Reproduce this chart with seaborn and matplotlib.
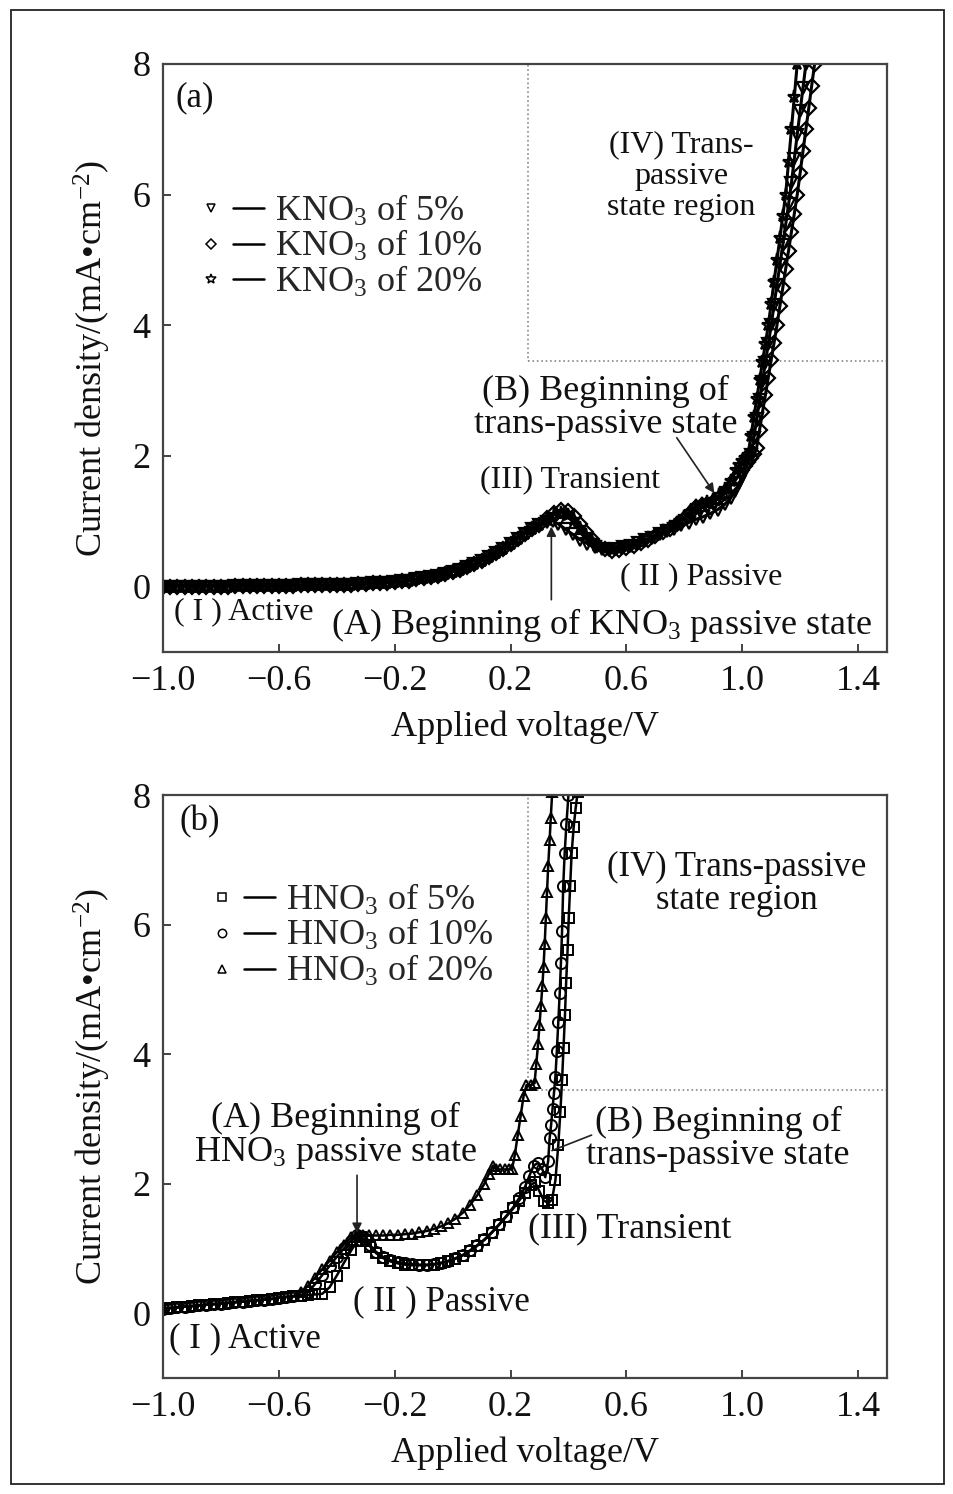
import matplotlib
matplotlib.use("Agg")
import matplotlib.pyplot as plt
from matplotlib.lines import Line2D
from matplotlib.legend_handler import HandlerTuple
from matplotlib.patches import Rectangle
import seaborn as sns

sns.set_style("ticks")
plt.rcParams['font.family'] = ['Liberation Serif', 'DejaVu Serif']
plt.rcParams['mathtext.fontset'] = 'custom'
plt.rcParams['mathtext.rm'] = 'Liberation Serif'
plt.rcParams['mathtext.it'] = 'Liberation Serif:italic'
plt.rcParams['mathtext.bf'] = 'Liberation Serif:bold'

# ---------------- data: panel (a) KNO3 ----------------
Va_low = [-1.000, -0.975, -0.950, -0.925, -0.900, -0.875, -0.850, -0.825, -0.800, -0.775,
          -0.750, -0.725, -0.700, -0.675, -0.650, -0.625, -0.600, -0.575, -0.550, -0.525,
          -0.500, -0.475, -0.450, -0.425, -0.400, -0.375, -0.350, -0.325, -0.300, -0.275,
          -0.250, -0.225, -0.200, -0.175, -0.150, -0.125, -0.100, -0.075, -0.050, -0.025,
          0.000, 0.025, 0.050, 0.075, 0.100, 0.125, 0.150, 0.175, 0.200, 0.225,
          0.250, 0.275, 0.300]
Ia_low = [0.00, 0.00, 0.00, 0.00, 0.00, 0.00, 0.00, 0.00, 0.00, 0.00,
          0.01, 0.01, 0.01, 0.01, 0.01, 0.01, 0.01, 0.01, 0.01, 0.02,
          0.02, 0.02, 0.02, 0.02, 0.03, 0.03, 0.03, 0.04, 0.04, 0.05,
          0.05, 0.06, 0.07, 0.08, 0.09, 0.11, 0.13, 0.15, 0.17, 0.20,
          0.23, 0.26, 0.30, 0.34, 0.39, 0.45, 0.51, 0.58, 0.65, 0.73,
          0.81, 0.88, 0.94]

K5_v = [0.325, 0.345, 0.365, 0.39, 0.415, 0.44, 0.465, 0.49, 0.515, 0.54,
        0.565, 0.59, 0.615, 0.64, 0.665, 0.69, 0.715, 0.74, 0.765, 0.79,
        0.815, 0.84, 0.865, 0.89, 0.915, 0.94, 0.96, 0.975, 0.99, 1.00,
        1.01, 1.02, 1.03, 1.04, 1.05, 1.06, 1.07, 1.08, 1.09, 1.10,
        1.11, 1.12, 1.13, 1.14, 1.15, 1.16, 1.17, 1.18, 1.19, 1.20,
        1.21, 1.22]
K5_i = [0.99, 1.01, 0.96, 0.88, 0.80, 0.72, 0.66, 0.61, 0.58, 0.56,
        0.57, 0.60, 0.63, 0.67, 0.71, 0.75, 0.80, 0.85, 0.89, 0.94,
        0.98, 1.03, 1.07, 1.12, 1.18, 1.26, 1.36, 1.46, 1.58, 1.68,
        1.79, 1.90, 2.02, 2.28, 2.56, 2.86, 3.14, 3.43, 3.71, 4.00,
        4.31, 4.62, 4.92, 5.23, 5.54, 5.85, 6.18, 6.55, 6.92, 7.28,
        7.64, 8.00]

K10_v = [0.325, 0.35, 0.375, 0.40, 0.42, 0.44, 0.46, 0.48, 0.50, 0.525,
         0.55, 0.575, 0.60, 0.625, 0.65, 0.675, 0.70, 0.725, 0.75, 0.775,
         0.80, 0.82, 0.84, 0.86, 0.88, 0.90, 0.92, 0.94, 0.96, 0.98,
         1.00, 1.01, 1.02, 1.03, 1.04, 1.05, 1.06, 1.07, 1.08, 1.09,
         1.10, 1.11, 1.12, 1.13, 1.14, 1.15, 1.16, 1.17, 1.18, 1.19,
         1.20, 1.21, 1.22, 1.23, 1.24, 1.25]
K10_i = [1.05, 1.13, 1.17, 1.16, 1.08, 0.96, 0.84, 0.73, 0.64, 0.58,
         0.55, 0.56, 0.59, 0.63, 0.67, 0.72, 0.77, 0.83, 0.89, 0.96,
         1.04, 1.13, 1.22, 1.25, 1.26, 1.30, 1.36, 1.44, 1.54, 1.66,
         1.78, 1.85, 1.91, 1.97, 2.03, 2.13, 2.40, 2.67, 2.93, 3.20,
         3.47, 3.73, 4.00, 4.29, 4.57, 4.86, 5.14, 5.43, 5.71, 6.00,
         6.33, 6.67, 7.00, 7.33, 7.67, 8.00]

K20_v = [0.325, 0.35, 0.375, 0.40, 0.42, 0.44, 0.46, 0.48, 0.50, 0.525,
         0.55, 0.575, 0.60, 0.625, 0.65, 0.675, 0.70, 0.725, 0.75, 0.775,
         0.80, 0.82, 0.84, 0.86, 0.88, 0.90, 0.92, 0.94, 0.96, 0.98,
         0.99, 1.00, 1.01, 1.02, 1.03, 1.04, 1.05, 1.06, 1.07, 1.08,
         1.09, 1.10, 1.11, 1.12, 1.13, 1.14, 1.15, 1.16, 1.17, 1.18,
         1.19]
K20_i = [1.02, 1.10, 1.13, 1.10, 1.02, 0.90, 0.79, 0.70, 0.63, 0.58,
         0.56, 0.57, 0.60, 0.64, 0.69, 0.74, 0.79, 0.85, 0.91, 0.98,
         1.06, 1.15, 1.23, 1.27, 1.29, 1.33, 1.40, 1.50, 1.62, 1.78,
         1.86, 1.93, 1.97, 2.02, 2.30, 2.59, 2.87, 3.16, 3.44, 3.72,
         4.00, 4.33, 4.67, 5.00, 5.33, 5.67, 6.00, 6.50, 7.00, 7.50,
         8.00]

# ---------------- data: panel (b) HNO3 ----------------
Vb_low = [-1.000, -0.975, -0.950, -0.925, -0.900, -0.875, -0.850, -0.825, -0.800, -0.775,
          -0.750, -0.725, -0.700, -0.675, -0.650, -0.625, -0.600, -0.575, -0.550]
Ib_low = [0.07, 0.08, 0.09, 0.10, 0.11, 0.12, 0.13, 0.14, 0.15, 0.16,
          0.17, 0.18, 0.19, 0.20, 0.21, 0.22, 0.24, 0.25, 0.26]

H5_v = [-0.525, -0.50, -0.475, -0.45, -0.425, -0.40, -0.375, -0.35, -0.33, -0.315,
        -0.30, -0.285, -0.265, -0.24, -0.215, -0.19, -0.165, -0.14, -0.115, -0.09,
        -0.065, -0.04, -0.015, 0.01, 0.035, 0.06, 0.085, 0.11, 0.135, 0.16,
        0.185, 0.21, 0.23, 0.25, 0.27, 0.285, 0.30, 0.315, 0.33, 0.343,
        0.355, 0.365, 0.372, 0.378, 0.383, 0.388, 0.392, 0.397, 0.401, 0.406,
        0.411, 0.418, 0.425, 0.432]
H5_i = [0.27, 0.28, 0.29, 0.30, 0.40, 0.58, 0.78, 0.97, 1.11, 1.17,
        1.12, 1.03, 0.93, 0.85, 0.80, 0.77, 0.75, 0.74, 0.74, 0.74,
        0.75, 0.77, 0.80, 0.84, 0.89, 0.96, 1.04, 1.13, 1.24, 1.36,
        1.49, 1.62, 1.74, 1.86, 1.98, 2.02, 1.88, 1.74, 1.70, 1.75,
        2.05, 2.60, 3.10, 3.60, 4.10, 4.60, 5.10, 5.60, 6.10, 6.60,
        7.10, 7.50, 7.80, 8.05]

H10_v = [-0.525, -0.50, -0.475, -0.45, -0.425, -0.40, -0.375, -0.35, -0.33, -0.315,
         -0.30, -0.285, -0.265, -0.24, -0.215, -0.19, -0.165, -0.14, -0.115, -0.09,
         -0.065, -0.04, -0.015, 0.01, 0.035, 0.06, 0.085, 0.11, 0.135, 0.16,
         0.185, 0.21, 0.23, 0.25, 0.265, 0.28, 0.295, 0.31, 0.32, 0.33,
         0.335, 0.340, 0.345, 0.350, 0.355, 0.360, 0.365, 0.370, 0.374, 0.378,
         0.382, 0.387, 0.393, 0.400]
H10_i = [0.28, 0.32, 0.45, 0.59, 0.73, 0.87, 1.00, 1.12, 1.20, 1.13,
         1.15, 1.05, 0.95, 0.87, 0.82, 0.79, 0.77, 0.76, 0.75, 0.75,
         0.76, 0.78, 0.81, 0.85, 0.90, 0.97, 1.05, 1.14, 1.25, 1.37,
         1.50, 1.64, 1.78, 1.95, 2.12, 2.28, 2.32, 2.22, 2.10, 2.35,
         2.70, 2.90, 3.15, 3.40, 3.65, 4.05, 4.50, 4.95, 5.40, 5.90,
         6.60, 7.10, 7.55, 8.00]

H20_v = [-0.525, -0.50, -0.475, -0.45, -0.425, -0.40, -0.375, -0.35, -0.33, -0.31,
         -0.29, -0.265, -0.24, -0.215, -0.19, -0.165, -0.14, -0.115, -0.09, -0.065,
         -0.04, -0.015, 0.01, 0.035, 0.06, 0.085, 0.11, 0.125, 0.14, 0.15,
         0.165, 0.18, 0.195, 0.205, 0.215, 0.225, 0.235, 0.245, 0.255, 0.27,
         0.283, 0.289, 0.295, 0.300, 0.305, 0.310, 0.314, 0.318, 0.322, 0.326,
         0.330, 0.335, 0.339, 0.344]
H20_i = [0.32, 0.42, 0.55, 0.68, 0.81, 0.94, 1.06, 1.17, 1.22, 1.21,
         1.20, 1.20, 1.20, 1.21, 1.21, 1.22, 1.23, 1.25, 1.27, 1.30,
         1.34, 1.39, 1.46, 1.55, 1.67, 1.82, 2.00, 2.15, 2.28, 2.22,
         2.22, 2.22, 2.22, 2.22, 2.45, 2.75, 3.05, 3.35, 3.52, 3.52,
         3.55, 3.85, 4.15, 4.45, 4.75, 5.05, 5.35, 5.70, 6.10, 6.50,
         6.90, 7.30, 7.65, 8.05]

labels_a = ["KNO$_3$ of 5%", "KNO$_3$ of 10%", "KNO$_3$ of 20%"]
labels_b = ["HNO$_3$ of 5%", "HNO$_3$ of 10%", "HNO$_3$ of 20%"]
xticks = [-1.0, -0.6, -0.2, 0.2, 0.6, 1.0, 1.4]
yticks = [0, 2, 4, 6, 8]
region_box = (0.26, 3.45, 1.5, 8.0)   # V0, I0, V1, I1 of the trans-passive box

# ---------------- figure ----------------
W, H = 954, 1494
fig = plt.figure(figsize=(W / 100, H / 100), dpi=100)
fig.patch.set_facecolor('white')
ax1 = fig.add_axes([163 / W, 1 - 652 / H, (887 - 163) / W, (652 - 64) / H])
ax2 = fig.add_axes([163 / W, 1 - 1378 / H, (887 - 163) / W, (1378 - 795) / H])


def draw(ax, v, i, marker, ms, lw=2.2, mew=1.6):
    sns.lineplot(x=v, y=i, ax=ax, sort=False, estimator=None, color='black',
                 linewidth=lw, marker=marker, markersize=ms, markerfacecolor='none',
                 markeredgecolor='black', markeredgewidth=mew, legend=False)


draw(ax1, Va_low + K5_v, Ia_low + K5_i, 'v', 8.5)
draw(ax1, Va_low + K10_v, Ia_low + K10_i, 'D', 7)
draw(ax1, Va_low + K20_v, Ia_low + K20_i, '*', 9.5)

draw(ax2, Vb_low + H5_v, Ib_low + H5_i, 's', 7, lw=1.8, mew=1.4)
draw(ax2, Vb_low + H10_v, Ib_low + H10_i, 'o', 8, lw=1.8, mew=1.4)
draw(ax2, Vb_low + H20_v, Ib_low + H20_i, '^', 7, lw=1.8, mew=1.4)


def style(ax):
    ax.set_xlim(-1.0, 1.5)
    ax.set_ylim(-1.0, 8.0)
    ax.set_xticks(xticks)
    ax.set_yticks(yticks)
    ax.tick_params(direction='in', length=6, width=1.2, labelsize=26, pad=9,
                   top=False, right=False, colors='#222222', labelcolor='#111111')
    for s in ax.spines.values():
        s.set_visible(True)
        s.set_linewidth(1.6)
        s.set_color('#444444')
    ax.set_xlabel('Applied voltage/V', fontsize=26, labelpad=9, color='#111111')
    ax.set_ylabel('Current density/(mA\u2022cm$^{-2}$)', fontsize=26, labelpad=14,
                  color='#111111')
    v0, i0, v1, i1 = region_box
    ax.add_patch(Rectangle((v0, i0), v1 - v0, i1 - i0, fill=False, ls=':',
                           ec='#888888', lw=1.2, zorder=1))


style(ax1)
style(ax2)


def legend(ax, markers, sizes, labels, anchor):
    handles = []
    for m, s in zip(markers, sizes):
        h1 = Line2D([], [], ls='none', marker=m, ms=s, mfc='none', mec='black', mew=1.1)
        h2 = Line2D([], [], color='black', lw=1.8)
        handles.append((h1, h2))
    ax.legend(handles, labels, handler_map={tuple: HandlerTuple(ndivide=None, pad=0.2)},
              loc='upper left', bbox_to_anchor=anchor, frameon=False, fontsize=26,
              handlelength=1.9, handletextpad=0.3, labelspacing=0.02,
              borderpad=0, borderaxespad=0)


legend(ax1, ['v', 'D', '*'], [6, 5, 7], labels_a, (0.045, 0.78))
legend(ax2, ['s', 'o', '^'], [6, 6, 6], labels_b, (0.06, 0.85))

# ---------------- annotations (a) ----------------
tk = dict(ha='center', va='center', color='#111111')
ax1.text(-0.89, 7.49, '(a)', fontsize=25, **tk)
ax1.text(0.79, 6.28, '(IV) Trans-\npassive\nstate region', fontsize=23, linespacing=1.1, **tk)
ax1.text(0.528, 2.74, '(B) Beginning of\ntrans-passive state', fontsize=26, linespacing=1.0, **tk)
ax1.text(0.407, 1.64, '(III) Transient', fontsize=23, **tk)
ax1.text(0.86, 0.15, '( II ) Passive', fontsize=23, **tk)
ax1.text(-0.72, -0.38, '( I ) Active', fontsize=23, **tk)
ax1.text(0.514, -0.58, '(A) Beginning of KNO$_3$ passive state', fontsize=26, **tk)
arr = dict(arrowstyle='-|>', color='#222222', lw=1.2, mutation_scale=14, shrinkA=0, shrinkB=0)
ax1.annotate('', xy=(0.341, 0.92), xytext=(0.341, -0.2), arrowprops=arr)
ax1.annotate('', xy=(0.904, 1.43), xytext=(0.774, 2.28), arrowprops=arr)

# ---------------- annotations (b) ----------------
ax2.text(-0.872, 7.58, '(b)', fontsize=25, **tk)
ax2.text(0.98, 6.63, '(IV) Trans-passive\nstate region', fontsize=25, linespacing=1.0, **tk)
ax2.text(-0.405, 2.73, '(A) Beginning of\nHNO$_3$ passive state', fontsize=26, linespacing=1.0, **tk)
ax2.text(0.917, 2.69, '(B) Beginning of\ntrans-passive state', fontsize=26, linespacing=1.0, **tk)
ax2.text(0.61, 1.31, '(III) Transient', fontsize=26, **tk)
ax2.text(-0.04, 0.17, '( II ) Passive', fontsize=25, **tk)
ax2.text(-0.716, -0.39, '( I ) Active', fontsize=25, **tk)
ax2.annotate('', xy=(-0.33, 1.24), xytext=(-0.33, 2.13), arrowprops=arr)
ax2.annotate('', xy=(0.343, 2.51), xytext=(0.48, 2.75),
             arrowprops=dict(arrowstyle='-', color='#222222', lw=1.2, shrinkA=0, shrinkB=0))

# outer frame
fig.add_artist(Rectangle((11 / W, 1 - 1484 / H), (944 - 11) / W, (1484 - 10) / H,
                         transform=fig.transFigure, fill=False, ec='#222222', lw=1.3))

fig.savefig('out.png', dpi=100)
